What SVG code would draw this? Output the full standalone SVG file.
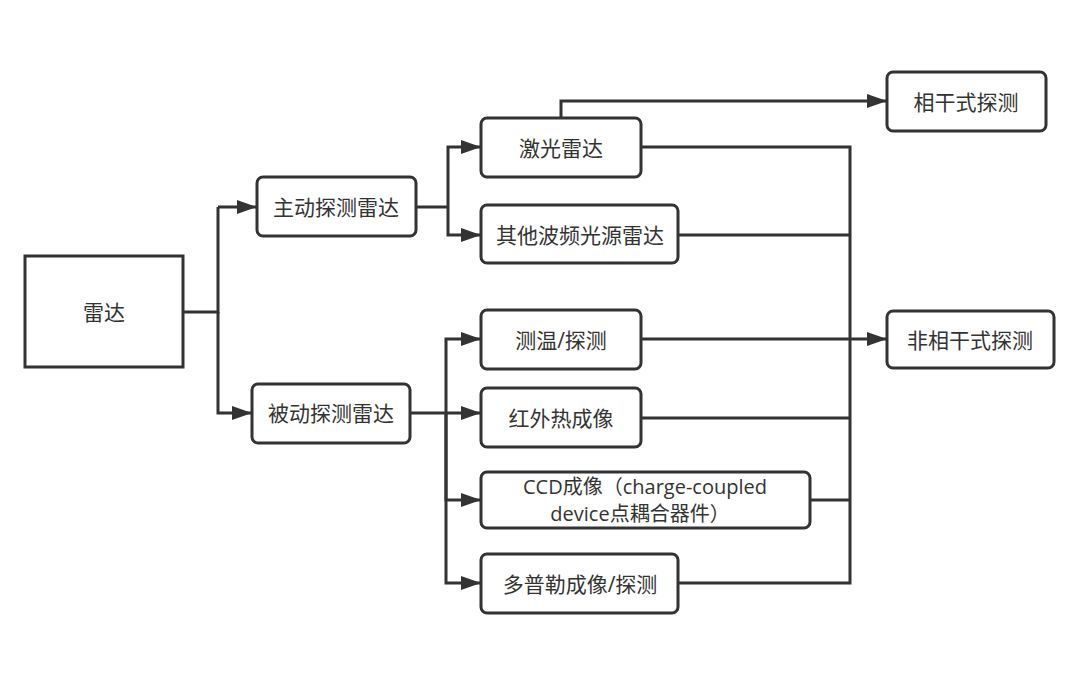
<svg xmlns="http://www.w3.org/2000/svg" width="1080" height="685" viewBox="0 0 1080 685">
<defs>
<marker id="arr" markerUnits="userSpaceOnUse" markerWidth="21" markerHeight="15" refX="20" refY="7.5" orient="auto">
<path d="M0,0.5 L20,7.5 L0,14.5 z" fill="#333"/>
</marker>
<style>
.box{fill:#fff;stroke:#333;stroke-width:3}
.t{font-family:"Open Sans","Noto Sans CJK SC",sans-serif;font-size:21px;fill:#333;text-anchor:middle;dominant-baseline:central}
.s{font-size:20px}
.c{fill:none;stroke:#333;stroke-width:3;stroke-linejoin:miter}
.a{marker-end:url(#arr)}
</style>
</defs>
<rect width="1080" height="685" fill="#fff"/>
<g id="connectors">
<path class="c" d="M183,312 H218 V207"/>
<path class="c a" d="M218,207 H257"/>
<path class="c a" d="M218,312 V413 H252"/>
<path class="c" d="M416,207 H448"/>
<path class="c a" d="M448,207 V147 H481"/>
<path class="c a" d="M448,207 V235 H481"/>
<path class="c a" d="M561,117 V101 H887"/>
<path class="c" d="M641,147 H850 V583 H678"/>
<path class="c" d="M678,235 H850"/>
<path class="c" d="M641,418 H850"/>
<path class="c" d="M810,500 H850"/>
<path class="c a" d="M641,339 H887"/>
<path class="c" d="M410,413 H446"/>
<path class="c a" d="M446,413 V339 H481"/>
<path class="c a" d="M446,413 H481"/>
<path class="c a" d="M446,413 V500 H481"/>
<path class="c a" d="M446,413 V583 H481"/>
</g>
<g id="n-radar"><rect class="box" x="25" y="256" width="158" height="111"/><text class="t" x="104" y="312">雷达</text></g>
<g id="n-active"><rect class="box" x="257" y="177" width="159" height="59" rx="6"/><text class="t" x="336" y="207">主动探测雷达</text></g>
<g id="n-passive"><rect class="box" x="252" y="384" width="158" height="59" rx="6"/><text class="t" x="331" y="413">被动探测雷达</text></g>
<g id="n-laser"><rect class="box" x="481" y="118" width="160" height="59" rx="6"/><text class="t" x="561" y="148">激光雷达</text></g>
<g id="n-other"><rect class="box" x="481" y="205" width="197" height="58" rx="6"/><text class="t" x="580" y="235">其他波频光源雷达</text></g>
<g id="n-temp"><rect class="box" x="481" y="310" width="160" height="59" rx="6"/><text class="t" x="561" y="340">测温/探测</text></g>
<g id="n-ir"><rect class="box" x="481" y="388" width="160" height="59" rx="6"/><text class="t" x="561" y="418">红外热成像</text></g>
<g id="n-ccd"><rect class="box" x="481" y="472" width="329" height="56" rx="6"/><text class="t s" x="645" y="486">CCD成像（charge-coupled</text><text class="t s" x="640" y="513">device点耦合器件）</text></g>
<g id="n-doppler"><rect class="box" x="481" y="554" width="197" height="59" rx="6"/><text class="t" x="580" y="584">多普勒成像/探测</text></g>
<g id="n-coherent"><rect class="box" x="887" y="72" width="159" height="59" rx="6"/><text class="t" x="966" y="102">相干式探测</text></g>
<g id="n-noncoherent"><rect class="box" x="887" y="311" width="167" height="57" rx="6"/><text class="t" x="970" y="340">非相干式探测</text></g>
</svg>
